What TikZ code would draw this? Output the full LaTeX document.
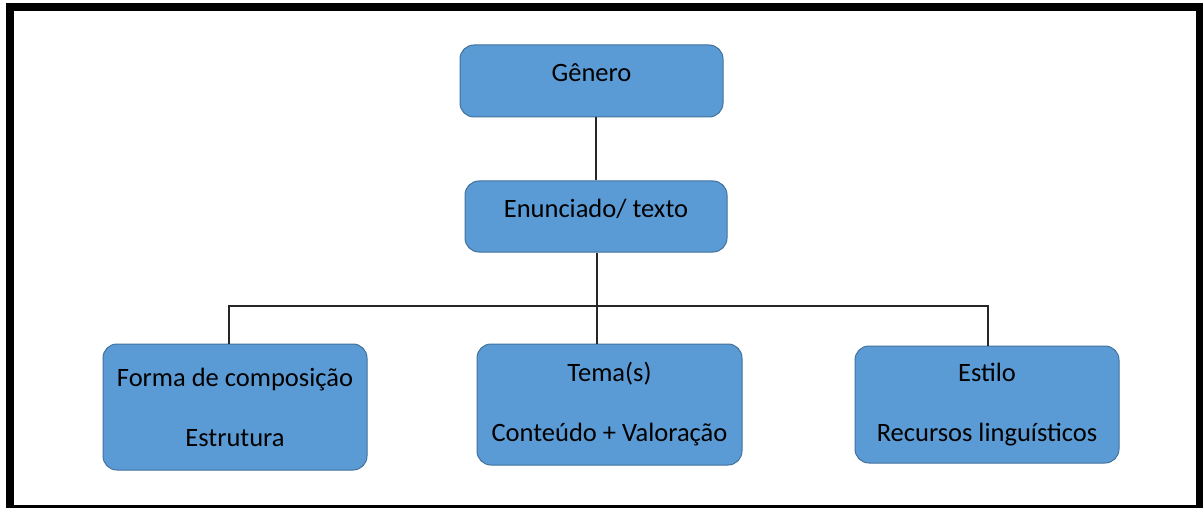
\documentclass[tikz,border=0pt]{standalone}
\usepackage{fontspec}
\setmainfont{Carlito}
\usepackage{tikz}

\definecolor{boxfill}{RGB}{91,155,213}
\definecolor{boxline}{RGB}{65,113,156}

\begin{document}
\begin{tikzpicture}[x=1pt, y=-1pt,
    every node/.style={draw=boxline, fill=boxfill, line width=1pt, rounded corners=14pt,
      align=center, inner sep=0pt, font=\fontsize{26.5}{60}\selectfont},
    oneline/.style={text height=18pt, text depth=16pt},
    link/.style={draw=black!85, line width=1.4pt}]
    \useasboundingbox (0,0) rectangle (1203,508);
    \clip (0,0) rectangle (1203,508);

    % Outer frame
    \draw[line width=8pt] (10,7) rectangle (1200,509);

    % Level y-coordinates
    \def\ytop{81}
    \def\ymid{216.5}
    \def\ybus{306}

    % Boxes
    \node[oneline, minimum width=263pt, minimum height=72pt] (genero) at (591.5,\ytop) {Gênero};
    \node[oneline, minimum width=262pt, minimum height=71pt] (enunciado) at (596,\ymid) {Enunciado/ texto};
    \node[minimum width=264pt, minimum height=126pt] (forma) at (235,407) {Forma de composição\\Estrutura};
    \node[minimum width=265pt, minimum height=121pt] (tema) at (609.5,404.5) {Tema(s)\\Conteúdo + Valoração};
    \node[minimum width=264pt, minimum height=117pt] (estilo) at (987,404.5) {Estilo\\Recursos linguísticos};

    % Connectors
    \coordinate (bus) at (597,\ybus);
    \draw[link] (enunciado.north) -- (enunciado.north |- genero.south);
    \draw[link] ([xshift=1pt]enunciado.south) -- ([xshift=1pt]enunciado.south |- tema.north);
    \draw[link] ([xshift=-6pt]forma.north) |- (bus) -| ([xshift=1pt]estilo.north);
\end{tikzpicture}
\end{document}
